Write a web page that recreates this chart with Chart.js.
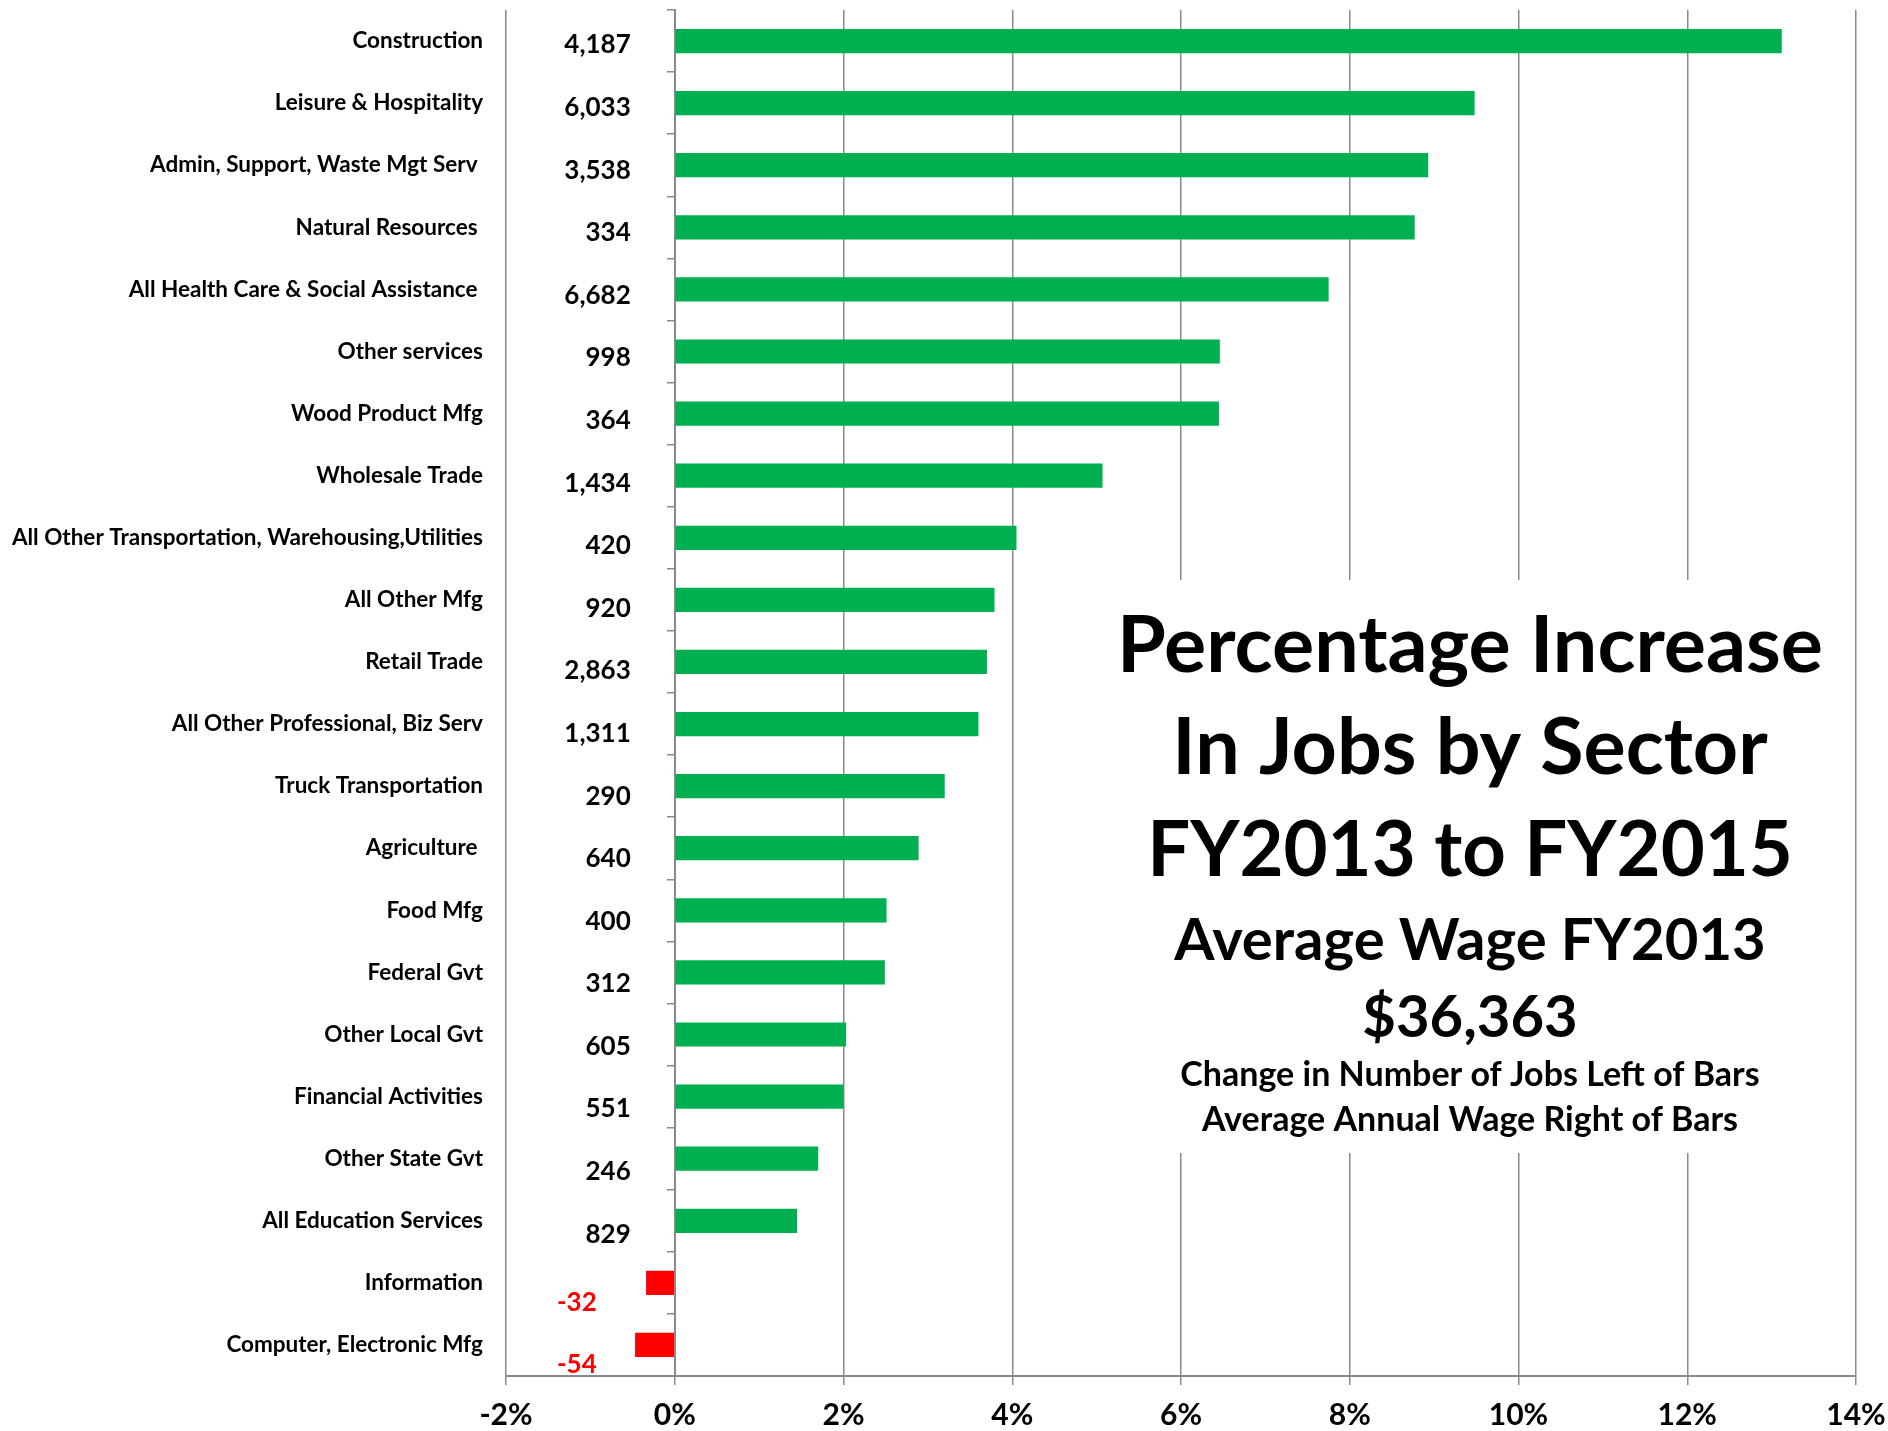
<!DOCTYPE html>
<html>
<head>
<meta charset="utf-8">
<script src="https://cdn.jsdelivr.net/npm/chart.js"></script>
<style>
  html, body { margin: 0; padding: 0; background: #fff; }
  #wrap { width: 1888px; height: 1431px; }
</style>
</head>
<body>
<div id="wrap"><canvas id="jobsChart" width="1888" height="1431"></canvas></div>
<script>
// sectors, top to bottom (trailing spaces kept as in the original labels)
var sectors = [
  'Construction',
  'Leisure & Hospitality',
  'Admin, Support, Waste Mgt Serv ',
  'Natural Resources ',
  'All Health Care & Social Assistance ',
  'Other services',
  'Wood Product Mfg',
  'Wholesale Trade',
  'All Other Transportation, Warehousing,Utilities',
  'All Other Mfg',
  'Retail Trade',
  'All Other Professional, Biz Serv',
  'Truck Transportation',
  'Agriculture ',
  'Food Mfg',
  'Federal Gvt',
  'Other Local Gvt',
  'Financial Activities',
  'Other State Gvt',
  'All Education Services',
  'Information',
  'Computer, Electronic Mfg'
];
// % increase in jobs FY2013 -> FY2015
var pctChange = [13.12, 9.48, 8.93, 8.77, 7.75, 6.46, 6.45, 5.07, 4.05, 3.79,
                 3.70, 3.60, 3.20, 2.89, 2.51, 2.49, 2.03, 2.00, 1.70, 1.45,
                 -0.34, -0.47];
// change in number of jobs (shown left of bars)
var jobChange = [4187, 6033, 3538, 334, 6682, 998, 364, 1434, 420, 920,
                 2863, 1311, 290, 640, 400, 312, 605, 551, 246, 829,
                 -32, -54];
var xMin = -2, xMax = 14, xStep = 2;

var titleLines = [
  'Percentage Increase',
  'In Jobs by Sector',
  'FY2013 to FY2015',
  'Average Wage FY2013',
  '$36,363',
  'Change in Number of Jobs Left of Bars',
  'Average Annual Wage Right of Bars'
];

var FONT = 'Lato';
var GRID = '#8a8a8a';

var jobLabels = {
  id: 'jobLabels',
  afterDatasetsDraw: function(chart) {
    var ctx = chart.ctx, xs = chart.scales.x, ys = chart.scales.y;
    var zero = xs.getPixelForValue(0);
    ctx.save();
    ctx.font = 'bold 26px ' + FONT;
    ctx.textAlign = 'right';
    ctx.textBaseline = 'middle';
    jobChange.forEach(function(v, i) {
      var neg = v < 0;
      ctx.fillStyle = neg ? '#ff0000' : '#000000';
      var px = neg ? zero - 78 : zero - 44;
      var py = ys.getPixelForValue(i) + (neg ? 20 : 4 + i * 0.5);
      ctx.fillText(v.toLocaleString('en-US'), px, py);
    });
    ctx.restore();
  }
};

var titleBox = {
  id: 'titleBox',
  beforeDatasetsDraw: function(chart) {
    var ctx = chart.ctx;
    ctx.save();
    ctx.fillStyle = '#ffffff';
    ctx.fillRect(1100, 580, 748, 573);
    ctx.restore();
  },
  afterDraw: function(chart) {
    var ctx = chart.ctx;
    var cx = 1470;
    var sizes = [79, 79, 76, 58, 58, 34, 34];
    var bases = [672, 774, 876, 960, 1037, 1086, 1131];
    ctx.save();
    ctx.fillStyle = '#000';
    ctx.textAlign = 'center';
    ctx.textBaseline = 'alphabetic';
    titleLines.forEach(function(t, i) {
      ctx.font = 'bold ' + sizes[i] + 'px ' + FONT;
      ctx.fillText(t, cx, bases[i]);
    });
    ctx.restore();
  }
};

var ctx = document.getElementById('jobsChart').getContext('2d');
var chart = new Chart(ctx, {
  type: 'bar',
  data: {
    labels: sectors,
    datasets: [{
      data: pctChange,
      backgroundColor: pctChange.map(function(v) { return v < 0 ? '#ff0000' : '#00b050'; }),
      barPercentage: 0.39,
      categoryPercentage: 1.0
    }]
  },
  options: {
    indexAxis: 'y',
    responsive: false,
    animation: false,
    layout: { padding: { top: 10, right: 32, bottom: 0, left: 0 } },
    plugins: {
      legend: { display: false },
      tooltip: { enabled: false }
    },
    scales: {
      x: {
        min: xMin,
        max: xMax,
        ticks: {
          stepSize: xStep,
          callback: function(v) { return v + '%'; },
          font: { family: FONT, size: 30, weight: 'bold' },
          color: '#000',
          padding: 12
        },
        grid: { color: GRID, lineWidth: 1.5, tickLength: 9, tickColor: GRID },
        border: { color: GRID, width: 2 },
        afterFit: function(s) {
          s.height = 55;
          s.paddingLeft = 0;
          s.paddingRight = 0;
        }
      },
      y: {
        ticks: {
          autoSkip: false,
          font: { family: FONT, size: 22.5, weight: 'bold' },
          color: '#000',
          padding: 23
        },
        grid: { display: false, drawTicks: false },
        border: { display: false },
        afterFit: function(s) {
          s.width = 506;
          s.paddingTop = 0;
          s.paddingBottom = 0;
        }
      },
      y2: {
        type: 'category',
        position: { x: 0 },
        z: 1,
        ticks: { display: false },
        grid: { drawOnChartArea: false, tickLength: 7, color: GRID, lineWidth: 1.5 },
        border: { color: GRID, width: 2 }
      }
    }
  },
  plugins: [titleBox, jobLabels]
});
</script>
</body>
</html>
